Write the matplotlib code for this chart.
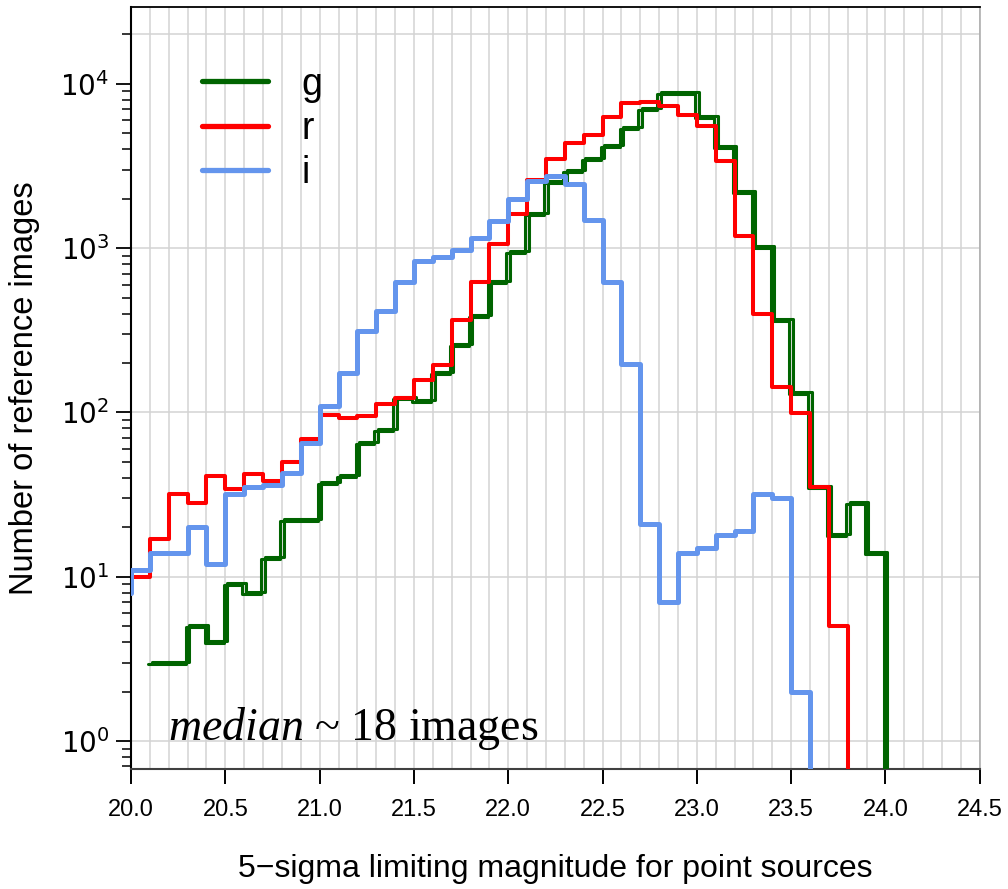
import numpy as np
import matplotlib
matplotlib.use("Agg")
import matplotlib.pyplot as plt
from matplotlib.lines import Line2D
from matplotlib.ticker import MultipleLocator, LogLocator, NullFormatter, FormatStrFormatter
from matplotlib.transforms import offset_copy

plt.rcParams['font.family'] = 'Liberation Sans'
plt.rcParams['mathtext.fontset'] = 'custom'
plt.rcParams['mathtext.rm'] = 'DejaVu Sans'
plt.rcParams['mathtext.it'] = 'Liberation Serif:italic'

# lower edges of the 0.1 mag bins (19.9 bin is mostly cut off by the x limits)
bin_lo = np.round(np.arange(19.9, 24.05, 0.1), 1)

nan = np.nan
g_counts = [nan, nan, 3, 3, 5, 4, 9, 8, 13, 22, 22, 37, 41, 65, 78, 123, 117, 173, 256, 385,
            620, 946, 1612, 2525, 2950, 3490, 4190, 5400, 7050, 8810, 8810, 6300, 4130, 2195,
            1015, 364, 132, 35, 18, 28, 14, 0]
r_counts = [10, 10, 17, 32, 28, 41, 34, 42, 38, 50, 69, 96, 92, 95, 113, 123, 157, 194, 364,
            620, 1058, 1612, 2600, 3490, 4365, 4890, 6300, 7600, 7760, 7350, 6500, 5550, 3390,
            1183, 396, 142, 99, 35, 5, 0, 0, 0]
i_counts = [8, 11, 14, 14, 20, 12, 32, 35, 36, 43, 65, 110, 173, 312, 413, 620, 834, 882, 972,
            1150, 1462, 1990, 2560, 2750, 2456, 1482, 620, 196, 21, 7, 14, 15, 18, 19, 32, 30,
            2, 0, 0, 0, 0, 0]

bands = ['g', 'r', 'i']
colors = {'g': '#006400', 'r': '#FF0000', 'i': '#6495ED'}

hgrid = [1, 10, 100, 1000, 20000]
xticks = np.arange(20.0, 24.51, 0.5)

fig = plt.figure(figsize=(10.08, 8.89), dpi=100)
ax = fig.add_axes([0.130, 0.135, 0.842, 0.857])
ax.set_yscale('log')

edges = np.append(bin_lo, 24.1)


def stepy(counts):
    c = np.asarray(counts, dtype=float)
    return np.append(c, c[-1])


# vertical grid every 0.1, horizontal grid only at a few levels
ax.xaxis.set_minor_locator(MultipleLocator(0.1))
ax.grid(which='both', axis='x', color='#D3D3D3', lw=1.1, zorder=0)
for h in hgrid:
    ax.axhline(h, color='#D3D3D3', lw=1.1, zorder=0)

# g is drawn as a doubled line
for dx, dy in [(-1.8, -1.0), (1.8, 1.0)]:
    tr = offset_copy(ax.transData, fig=fig, x=dx, y=dy, units='dots')
    ax.step(edges, stepy(g_counts), where='post', color=colors['g'], lw=2.2,
            transform=tr, solid_joinstyle='round', solid_capstyle='round', zorder=3)
ax.step(edges, stepy(r_counts), where='post', color=colors['r'], lw=2.9,
        solid_joinstyle='round', solid_capstyle='round', zorder=4)
ax.step(edges, stepy(i_counts), where='post', color=colors['i'], lw=3.6,
        solid_joinstyle='round', solid_capstyle='round', zorder=5)

ax.set_xlim(20, 24.5)
ax.set_ylim(0.676, 2.93e4)

ax.set_xticks(xticks)
ax.xaxis.set_major_formatter(FormatStrFormatter('%.1f'))
ax.tick_params(axis='x', which='major', length=10.8, width=1.4, pad=11, labelsize=17)
ax.tick_params(axis='x', which='minor', length=0)

ax.yaxis.set_major_locator(LogLocator(base=10, numticks=10))
ax.yaxis.set_minor_locator(LogLocator(base=10, subs=np.arange(2, 10), numticks=20))
ax.yaxis.set_minor_formatter(NullFormatter())
ax.tick_params(axis='y', which='major', length=10.8, width=1.3, pad=5, labelsize=20,
               labelfontfamily='DejaVu Sans')
ax.tick_params(axis='y', which='minor', length=6.5, width=1.1)

for side, col, w in [('left', 'black', 1.5), ('top', 'black', 1.3),
                     ('bottom', '#404040', 1.5), ('right', '#A8A8A8', 1.1)]:
    ax.spines[side].set_color(col)
    ax.spines[side].set_linewidth(w)

ax.set_xlabel('5\u2212sigma limiting magnitude for point sources', fontsize=23)
ax.xaxis.set_label_coords(0.5, -0.112)
ax.set_ylabel('Number of reference images', fontsize=23.5)
ax.yaxis.set_label_coords(-0.107, 0.5)

handles = [Line2D([], [], color=colors[b], lw=3.8, solid_capstyle='round') for b in bands]
ax.legend(handles, bands, loc='upper left', bbox_to_anchor=(0.084, 0.922), frameon=False,
          fontsize=27, handlelength=1.75, handletextpad=0.9, labelspacing=0.22,
          borderpad=0, borderaxespad=0)

ax.text(0.0436, 0.038, r'$\mathit{median}$ ~ 18 images', transform=ax.transAxes,
        family='Liberation Serif', fontsize=33, va='baseline', ha='left')

fig.savefig('out.png', dpi=100)
